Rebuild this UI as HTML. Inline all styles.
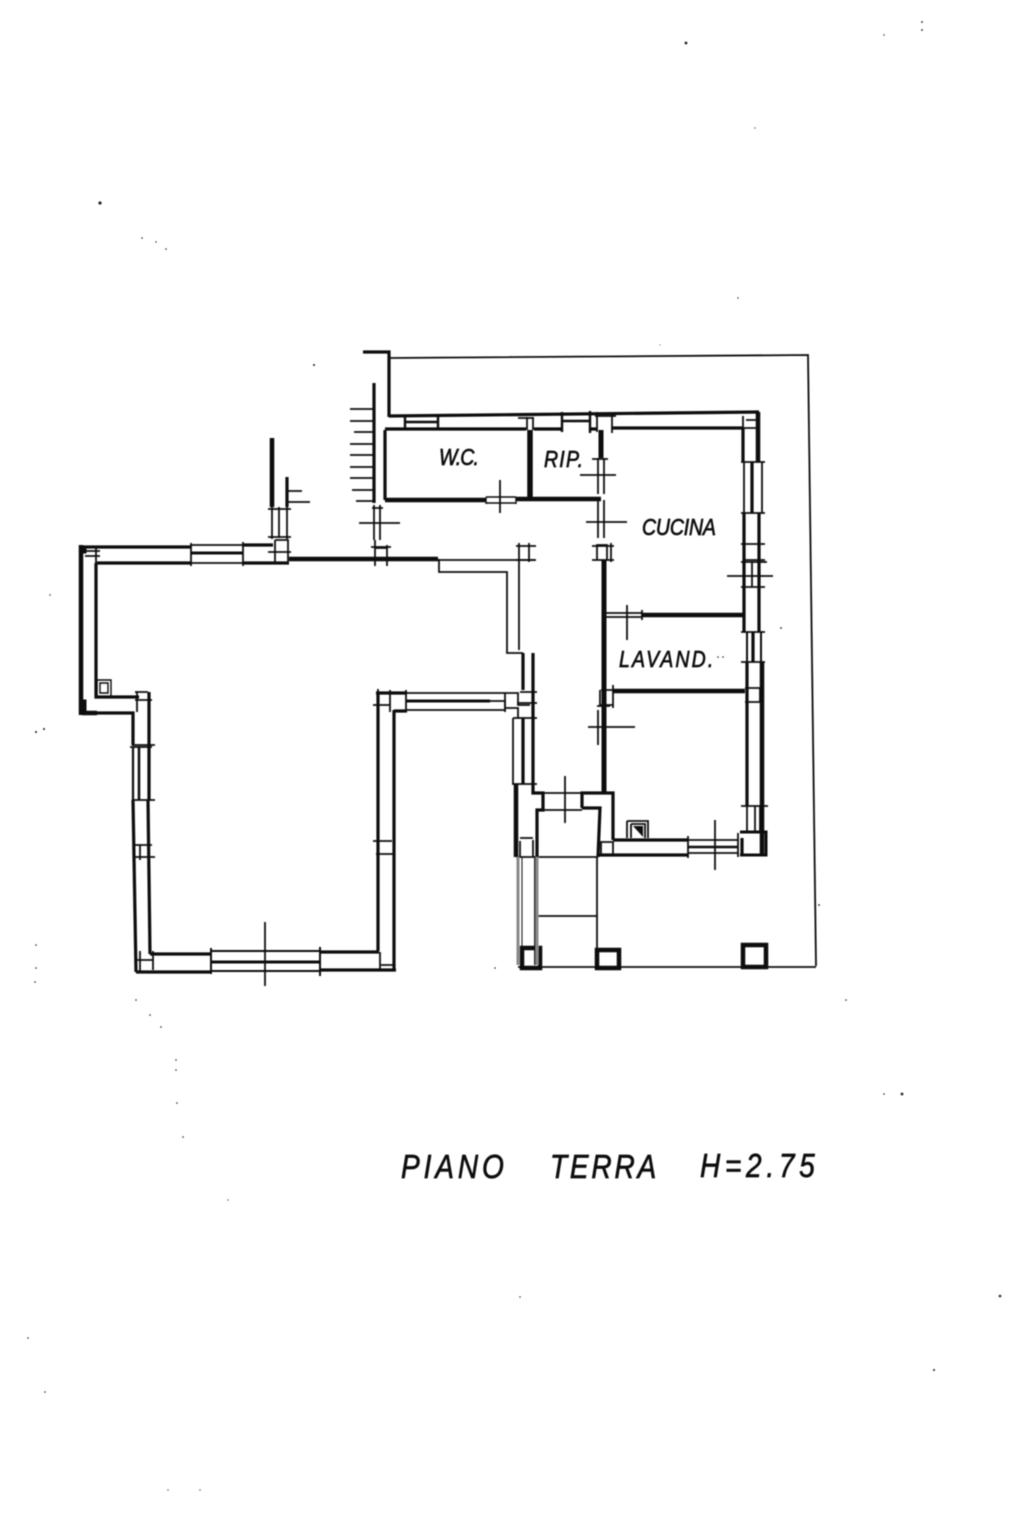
<!DOCTYPE html>
<html><head><meta charset="utf-8"><style>
html,body{margin:0;padding:0;background:#fff;width:1023px;height:1535px;overflow:hidden}
svg{display:block}
text{font-family:"Liberation Sans",sans-serif;font-style:italic;fill:#111;stroke:#111}
</style></head><body>
<svg width="1023" height="1535" viewBox="0 0 1023 1535" xmlns="http://www.w3.org/2000/svg">
<defs><filter id="b" x="-5%" y="-5%" width="110%" height="110%"><feGaussianBlur stdDeviation="0.45"/></filter></defs>
<rect width="1023" height="1535" fill="#fff"/>
<g filter="url(#b)" fill="none" stroke="#0c0c0c" stroke-linecap="butt">
<!-- heavy walls -->
<g stroke-width="4.5">
<path d="M81 545V715M82 713H97"/>
<path d="M289 559H438"/>
<path d="M272 438V507"/>
<path d="M385 500H486M516 499H601"/>
<path d="M604 560V792" stroke-width="5"/>
<path d="M642 615H745"/>
<path d="M613 691H745"/>
<path d="M601 430V458" stroke-width="5"/>
<path d="M758 412V462"/>
<path d="M762 662V855"/>
<path d="M516 784V857"/>
<path d="M530 430V498" stroke-width="5.5"/>
</g>
<!-- medium walls -->
<g stroke-width="3.2">
<path d="M363 352H389V417"/>
<path d="M389 416L759 412"/>
<path d="M385 429H526M534 429L562 429M590 429H597M612 428H743"/>
<path d="M374 383V503"/>
<path d="M385 430V500"/>
<path d="M287 477V507"/>
<path d="M80 547H191M243 545H273"/>
<path d="M97 563H191M243 563H289"/>
<path d="M96 563V697H139"/>
<path d="M97 713H133V745"/>
<path d="M149 692V747M149 747V800" />
<path d="M133 800L136 972"/>
<path d="M148 800L150 954"/>
<path d="M133 747V800" stroke-width="2.2"/>
<path d="M150 954H211M136 972H211"/>
<path d="M320 952H379M320 970H396"/>
<path d="M378 692V951"/>
<path d="M394 710V971"/>
<path d="M376 693H407M394 711H407"/>
<path d="M523 653V690M533 653V718"/>
<path d="M523 718V784M533 718V785"/>
<path d="M533 785V793H543V810H537V857"/>
<path d="M582 808V793H613V840"/>
<path d="M582 808H600L598 857"/>
<path d="M613 840H688M598 855H688"/>
<path d="M743 428V462M744 513V632M747 662V806"/>
<path d="M759 513V632M752 462V513"/>
<path d="M747 632V662M761 632V662" stroke-width="2"/>
<path d="M753 632V662"/>
<path d="M522 948H540V968H522ZM597 950H619V968H597ZM743 945H766V967H743Z" stroke-width="4.5"/>
<path d="M740 855H766V832H740" stroke-width="3"/>
<path d="M742 838V855"/>
</g>
<!-- thin lines -->
<g stroke-width="1.8">
<path d="M389 358L808 355L812 660L816 966"/>
<path d="M518 967H816"/>
<path d="M438 560H535M439 559V572H507V653H523"/>
<path d="M519 543V650"/>
<path d="M405 417V430M438 416V430M405 422H438" stroke-width="2.4"/>
<path d="M562 412V432M590 411V433M562 421H590" stroke-width="2.4"/>
<path d="M527 417V430M533 417V430M518 418H534"/>
<path d="M597 412V432M612 414V433M595 416H616"/>
<path d="M486 497V504M516 497V504M486 503H516M486 497H516" stroke-width="1.4"/>
<path d="M500 480V513"/>
<path d="M598 458V494M604 458V494M580 475H616M592 459H608"/>
<path d="M598 500V538M604 500V538M586 522H627"/>
<path d="M597 545H607V560H597ZM592 546H614M592 560H614M611 543V562"/>
<path d="M374 505V540M380 505V540M359 523H400M372 508H383"/>
<path d="M375 548H387V560H375ZM371 547H391M375 540V566M387 545V566"/>
<path d="M516 546H536M516 560H536M529 543V562"/>
<path d="M272 507V539M287 507V539M279 507V538M268 509H291M268 537H291"/>
<path d="M275 540H288V564M275 540V564M268 552H291"/>
<path d="M191 543V566M243 542V566M191 545H243M191 563H243"/>
<path d="M191 553H243" stroke-width="3"/>
<path d="M287 491H302M287 502H310"/>
<path d="M85 551H100M85 556H100M96 548V565"/>
<path d="M350 409H373M350 421H373M354 432H373M350 444H373M350 455H373M350 467H373M350 478H373M352 490H373M356 501H373"/>
<path d="M132 745H155M130 747H152M132 800H155M135 845H152M135 857H155M140 845V860M148 692H135M137 692V712M135 700H152"/>
<path d="M139 747V800" stroke-width="2.5"/>
<path d="M211 948V974M320 947V976M211 951H320M211 971H320" stroke-width="2"/>
<path d="M211 962H320" stroke-width="3"/>
<path d="M265 922V986"/>
<path d="M140 951V972M153 951V970M136 960H153M380 952V970M381 965H394"/>
<path d="M373 841H392M376 854H394"/>
<path d="M378 689V697M373 705H390M390 690V712M406 690V712"/>
<path d="M406 693H505M406 710H505M505 693V712"/>
<path d="M406 701H490" stroke-width="3"/>
<path d="M490 701H505L505 708M505 708H518V718M505 693H518V705H530"/>
<path d="M520 692H537M517 703H537M513 718H537"/>
<path d="M513 718V784M512 784H537"/>
<path d="M543 793H582M543 810H582M565 776V823"/>
<path d="M598 710V745M604 710V745M588 727H635M600 690V705H613V690H601M613 685V708"/>
<path d="M604 613H642M604 617H642M627 605V640M642 610V620M597 706H610"/>
<path d="M744 462V513M762 462V513M741 462H765M741 513H765"/>
<path d="M741 544H765M741 562H767M745 560H765M741 587H765M752 562V587M727 576H773"/>
<path d="M741 632H765M743 416V428H757M746 420H757"/>
<path d="M745 688H760V702H745"/>
<path d="M741 662H765M741 806H768"/>
<path d="M747 806V832M755 806V832M760 806V832M745 832H766"/>
<path d="M688 840H738M688 853H738M688 836V858M738 833V857M715 820V870"/>
<path d="M688 847H738" stroke-width="2.6"/>
<path d="M516 857H598"/>
<path d="M535 857V965M597 857V967M538 916H597"/>
<path d="M522 857V948" stroke-width="1"/>
<path d="M520 838H533M520 841V857M533 840V857"/>
<path d="M601 842H613V855H601Z"/>
<path d="M627 821H648V838M627 821V838M631 824H645V838M631 824V838"/>
<path d="M97 680H111V696M97 680V696M100 683H108V693H100Z" stroke-width="1.4"/>
</g>
<path d="M537 857V965" stroke="#888" stroke-width="3"/>
<path d="M518 857V965" stroke="#888" stroke-width="3"/>
<path d="M82 547H86V553H82ZM82 700H86V714H82ZM133 683" fill="#0c0c0c" stroke="#0c0c0c"/>
<path d="M633 826L643 837V826Z" fill="#0c0c0c" stroke="none"/>
<g fill="#222" stroke="none">
<circle cx="686" cy="43" r="1.4"/><circle cx="100" cy="203" r="1.6"/><circle cx="922" cy="22" r=".9"/><circle cx="922" cy="30" r=".9"/><circle cx="142" cy="238" r=".8"/><circle cx="156" cy="242" r=".7"/><circle cx="166" cy="249" r=".8"/><circle cx="738" cy="298" r=".7"/><circle cx="314" cy="365" r="1"/><circle cx="36" cy="732" r="1"/><circle cx="44" cy="729" r="1"/><circle cx="50" cy="595" r=".7"/><circle cx="1000" cy="1296" r="1.3"/><circle cx="902" cy="1094" r="1.4"/><circle cx="884" cy="1094" r=".8"/><circle cx="176" cy="1060" r=".8"/><circle cx="176" cy="1070" r=".8"/><circle cx="177" cy="1103" r=".8"/><circle cx="183" cy="1137" r=".8"/><circle cx="36" cy="945" r=".8"/><circle cx="36" cy="968" r=".8"/><circle cx="35" cy="982" r=".8"/><circle cx="136" cy="1000" r=".8"/><circle cx="150" cy="1015" r=".8"/><circle cx="161" cy="1027" r=".8"/><circle cx="846" cy="1000" r=".8"/><circle cx="934" cy="1370" r="1"/><circle cx="28" cy="1338" r=".8"/><circle cx="45" cy="1392" r=".8"/><circle cx="520" cy="1297" r=".7"/><circle cx="781" cy="628" r=".9"/><circle cx="819" cy="905" r=".9"/><circle cx="495" cy="968" r=".8"/><circle cx="884" cy="35" r=".7"/><circle cx="228" cy="1200" r=".6"/><circle cx="755" cy="128" r=".6"/><circle cx="168" cy="1490" r=".6"/><circle cx="200" cy="1490" r=".6"/><circle cx="660" cy="345" r=".5"/><circle cx="718" cy="657" r=".8"/><circle cx="723" cy="657" r=".8"/>
</g>
</g>
<g filter="url(#b)" stroke-width=".7">
<text transform="translate(439,465) scale(.85,1)" font-size="23" textLength="47" lengthAdjust="spacing">W.C.</text>
<text transform="translate(544,467) scale(.85,1)" font-size="23" textLength="46" lengthAdjust="spacing">RIP.</text>
<text transform="translate(642,535) scale(.85,1)" font-size="23" textLength="87" lengthAdjust="spacing">CUCINA</text>
<text transform="translate(619,667) scale(.85,1)" font-size="23" textLength="111" lengthAdjust="spacing">LAVAND.</text>
<text transform="translate(401,1178) scale(.85,1)" font-size="33" textLength="121" lengthAdjust="spacing">PIANO</text>
<text transform="translate(550,1178) scale(.85,1)" font-size="33" textLength="125" lengthAdjust="spacing">TERRA</text>
<text transform="translate(700,1177) scale(.85,1)" font-size="33" textLength="135" lengthAdjust="spacing">H=2.75</text>
</g>
</svg>
</body></html>
